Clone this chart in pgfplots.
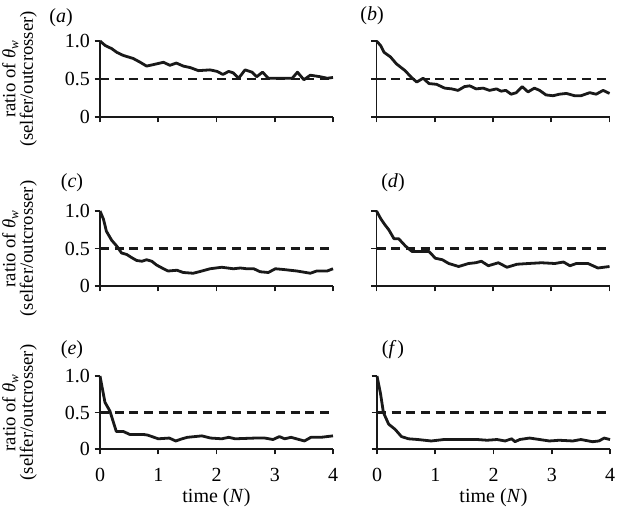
\documentclass[border=0pt]{standalone}
\usepackage{fontspec}
\setmainfont{Liberation Serif}
\usepackage{pgfplots}
\pgfplotsset{compat=1.18}

\definecolor{ink}{RGB}{25,25,25}

\pgfplotsset{
  panel/.style={
    scale only axis, width=174.75pt, anchor=south west,
    xmin=0, xmax=4, ymin=0, ymax=1,
    axis lines=left, axis line style={-, line width=1.2pt, draw=ink},
    tick align=outside, major tick length=4pt,
    every tick/.style={line width=1.2pt, ink},
    xtick={0,1,2,3,4}, ytick={0,0.5,1}, yticklabels={0,0.5,1.0},
    /pgf/number format/assume math mode=true,
    tick label style={font=\fontsize{15}{17}\selectfont},
    xticklabel style={yshift=-7pt},
    label style={font=\fontsize{15}{17}\selectfont},
    clip=false,
  },
  leftcol/.style={
    ylabel={ratio of \textit{θ}\textsubscript{\textit{w}}\\(selfer/outcrosser)},
    ylabel style={align=center, at={(axis description cs:-0.345,0.5)}, anchor=center,
      font=\fontsize{14}{11.5}\selectfont},
  },
  rightcol/.style={yticklabels={}},
  norowlabels/.style={xticklabels={}},
  bottomrow/.style={xlabel={time (\textit{N})},
    xlabel style={at={(axis description cs:0.5,0)}, yshift=-36.5pt, anchor=center}},
  data/.style={line width=2.1pt, ink, line join=round},
  ref/.style={line width=1.9pt, ink, dash pattern=on 6.75pt off 4.25pt},
}

\begin{document}
\begin{tikzpicture}
\useasboundingbox (0pt,0pt) rectangle (465pt,-379.5pt);

% (a)
\begin{axis}[panel, leftcol, norowlabels, height=57pt, at={(75pt,-87.75pt)}]
\addplot[ref] coordinates {(0,0.5) (4,0.5)};
\addplot[data] coordinates {
(0,1.0) (0.09,0.94) (0.2,0.90) (0.29,0.85) (0.4,0.81) (0.57,0.77) (0.69,0.72)
(0.8,0.67) (0.92,0.69) (1.09,0.72) (1.2,0.68) (1.31,0.71) (1.43,0.67) (1.55,0.65)
(1.69,0.61) (1.89,0.62) (2.01,0.60) (2.11,0.56) (2.21,0.60) (2.29,0.58) (2.38,0.51)
(2.49,0.62) (2.61,0.59) (2.69,0.53) (2.79,0.59) (2.89,0.51) (3.04,0.51) (3.3,0.51)
(3.39,0.59) (3.5,0.49) (3.61,0.55) (3.78,0.53) (3.9,0.51) (4.0,0.52)};
\end{axis}

% (b)
\begin{axis}[panel, rightcol, norowlabels, height=57pt, at={(282.4pt,-87.75pt)}]
\addplot[ref] coordinates {(0,0.5) (4,0.5)};
\addplot[data] coordinates {
(0,1.0) (0.07,0.94) (0.13,0.85) (0.24,0.79) (0.34,0.70) (0.49,0.61) (0.6,0.52)
(0.69,0.46) (0.8,0.51) (0.9,0.44) (1.03,0.43) (1.17,0.38) (1.29,0.37) (1.4,0.35)
(1.51,0.40) (1.6,0.41) (1.71,0.37) (1.83,0.38) (1.94,0.35) (2.06,0.37) (2.14,0.34)
(2.22,0.35) (2.31,0.30) (2.4,0.32) (2.5,0.40) (2.6,0.33) (2.71,0.38) (2.8,0.35)
(2.91,0.29) (3.03,0.28) (3.14,0.30) (3.26,0.31) (3.4,0.28) (3.51,0.28) (3.66,0.32)
(3.77,0.30) (3.89,0.35) (4.0,0.31)};
\end{axis}

% (c)
\begin{axis}[panel, leftcol, norowlabels, height=56.25pt, at={(75pt,-214.5pt)}]
\addplot[ref] coordinates {(0,0.5) (4,0.5)};
\addplot[data] coordinates {
(0,1.0) (0.06,0.89) (0.11,0.73) (0.2,0.61) (0.29,0.53) (0.37,0.44) (0.46,0.42)
(0.54,0.38) (0.63,0.34) (0.72,0.33) (0.8,0.35) (0.89,0.33) (0.97,0.28) (1.09,0.23)
(1.17,0.20) (1.32,0.21) (1.43,0.18) (1.6,0.17) (1.75,0.20) (1.89,0.23) (2.09,0.25)
(2.29,0.23) (2.41,0.24) (2.52,0.23) (2.64,0.23) (2.75,0.19) (2.89,0.18) (3.01,0.23)
(3.15,0.22) (3.38,0.20) (3.61,0.17) (3.72,0.20) (3.9,0.20) (4.0,0.23)};
\end{axis}

% (d)
\begin{axis}[panel, rightcol, norowlabels, height=56.25pt, at={(282.4pt,-214.5pt)}]
\addplot[ref] coordinates {(0,0.5) (4,0.5)};
\addplot[data] coordinates {
(0,1.0) (0.07,0.90) (0.14,0.82) (0.21,0.75) (0.3,0.63) (0.38,0.63) (0.5,0.53)
(0.61,0.46) (0.76,0.46) (0.9,0.46) (1.01,0.37) (1.13,0.35) (1.24,0.30) (1.41,0.26)
(1.58,0.30) (1.7,0.31) (1.8,0.33) (1.92,0.27) (2.09,0.31) (2.24,0.25) (2.41,0.29)
(2.61,0.30) (2.83,0.31) (3.06,0.30) (3.21,0.32) (3.32,0.27) (3.43,0.30) (3.63,0.30)
(3.8,0.24) (4.0,0.26)};
\end{axis}

% (e)
\begin{axis}[panel, leftcol, bottomrow, height=54.75pt, at={(75pt,-336.75pt)}]
\addplot[ref] coordinates {(0,0.5) (4,0.5)};
\addplot[data] coordinates {
(0,1.0) (0.085,0.64) (0.17,0.52) (0.28,0.24) (0.4,0.24) (0.51,0.20) (0.74,0.20)
(0.82,0.19) (1.0,0.14) (1.19,0.15) (1.3,0.11) (1.41,0.14) (1.5,0.16) (1.75,0.18)
(1.9,0.15) (2.09,0.14) (2.21,0.16) (2.32,0.14) (2.66,0.15) (2.83,0.15) (2.97,0.13)
(3.08,0.17) (3.17,0.14) (3.28,0.16) (3.37,0.14) (3.51,0.11) (3.62,0.16) (3.79,0.16)
(4.0,0.18)};
\end{axis}

% (f)
\begin{axis}[panel, rightcol, bottomrow, height=54.75pt, at={(282.75pt,-336.75pt)}]
\addplot[ref] coordinates {(0,0.5) (4,0.5)};
\addplot[data] coordinates {
(0,1.0) (0.06,0.76) (0.11,0.50) (0.2,0.34) (0.31,0.27) (0.42,0.17) (0.54,0.14)
(0.7,0.13) (0.93,0.11) (1.15,0.13) (1.44,0.13) (1.72,0.13) (1.89,0.12) (2.06,0.13)
(2.2,0.11) (2.31,0.14) (2.37,0.10) (2.45,0.13) (2.62,0.15) (2.79,0.13) (2.96,0.11)
(3.13,0.12) (3.36,0.11) (3.5,0.13) (3.7,0.10) (3.81,0.11) (3.9,0.15) (4.0,0.13)};
\end{axis}

% panel letters
\begin{scope}[font=\fontsize{15}{17}\selectfont]
\node at (45.75pt,-13.5pt) {(\textit{a})};
\node at (279pt,-12pt) {(\textit{b})};
\node at (54pt,-137.25pt) {(\textit{c})};
\node at (294.75pt,-137.25pt) {(\textit{d})};
\node at (54pt,-262.5pt) {(\textit{e})};
\node at (294.75pt,-262.5pt) {(\textit{f\,})};
\end{scope}
\end{tikzpicture}
\end{document}
